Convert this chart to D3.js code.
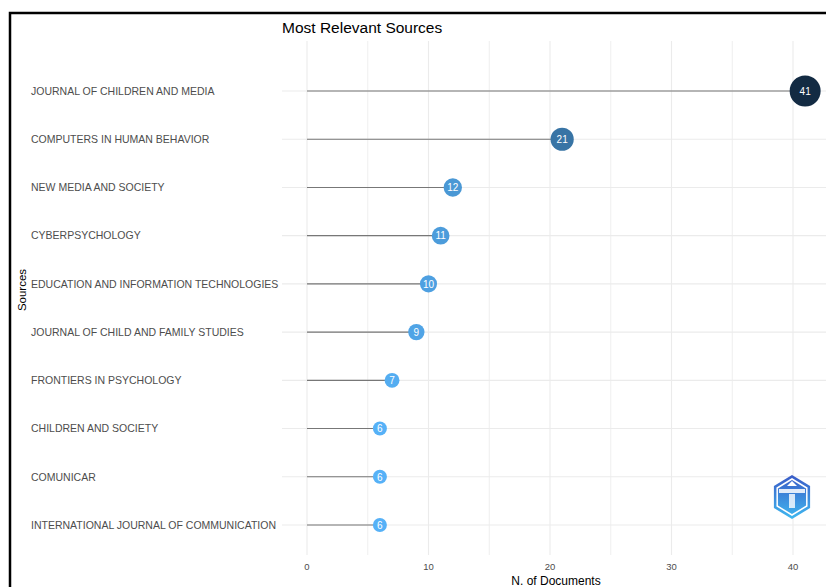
<!DOCTYPE html>
<html><head><meta charset="utf-8">
<script src="https://cdn.jsdelivr.net/npm/d3@7"></script>
<style>body{margin:0;background:#fff;}svg{display:block;font-family:"Liberation Sans",Arial,sans-serif;}</style>
</head><body>
<svg id="chart" width="826" height="587"></svg>
<script>
const sources = ["JOURNAL OF CHILDREN AND MEDIA","COMPUTERS IN HUMAN BEHAVIOR","NEW MEDIA AND SOCIETY","CYBERPSYCHOLOGY","EDUCATION AND INFORMATION TECHNOLOGIES","JOURNAL OF CHILD AND FAMILY STUDIES","FRONTIERS IN PSYCHOLOGY","CHILDREN AND SOCIETY","COMUNICAR","INTERNATIONAL JOURNAL OF COMMUNICATION"];
const documents = [41,21,12,11,10,9,7,6,6,6];
const xTicks = [0,10,20,30,40];
const xGrid = [0,5,10,15,20,25,30,35,40,45];

const svg = d3.select("#chart");
// outer border
svg.append("rect").attr("x",10).attr("y",13).attr("width",830).attr("height",600)
  .attr("fill","none").attr("stroke","#000").attr("stroke-width",2.5);

const panel = {left:282, right:826, top:41, bottom:555};
const x = d3.scaleLinear().domain([0,40]).range([307,793]);
const y = d3.scalePoint().domain(sources).range([91,525]);
const r = d3.scaleSqrt().domain([6,41]).range([7,15.5]);
const col = d3.scaleLinear().domain([6,41]).range(["#56B1F7","#132B43"]).interpolate(d3.interpolateLab);

const g = svg.append("g");
// grid
g.selectAll(".vg").data(xGrid).join("line")
  .attr("x1",d=>x(d)).attr("x2",d=>x(d)).attr("y1",panel.top).attr("y2",panel.bottom)
  .attr("stroke","#ebebeb").attr("stroke-width",d=>d%10===0?1.1:0.8);
g.selectAll(".hg").data(sources).join("line")
  .attr("x1",panel.left).attr("x2",panel.right).attr("y1",d=>y(d)).attr("y2",d=>y(d))
  .attr("stroke","#ebebeb").attr("stroke-width",1.1);

// stems
g.selectAll(".stem").data(sources).join("line")
  .attr("x1",x(0)).attr("x2",(d,i)=>x(documents[i])).attr("y1",d=>y(d)).attr("y2",d=>y(d))
  .attr("stroke","#777").attr("stroke-width",1.1);
// points
g.selectAll(".pt").data(sources).join("circle")
  .attr("cx",(d,i)=>x(documents[i])).attr("cy",d=>y(d)).attr("r",(d,i)=>r(documents[i]))
  .attr("fill",(d,i)=>col(documents[i]));
g.selectAll(".lbl").data(sources).join("text")
  .attr("x",(d,i)=>x(documents[i])).attr("y",d=>y(d)).attr("dy","0.38em")
  .attr("text-anchor","middle").attr("fill","#fff").attr("font-size",10)
  .text((d,i)=>documents[i]);

// y labels
g.selectAll(".ylab").data(sources).join("text")
  .attr("x",31).attr("y",d=>y(d)).attr("dy","0.36em")
  .attr("fill","#4d4d4d").attr("font-size",10.5).text(d=>d);

// x tick labels
g.selectAll(".xlab").data(xTicks).join("text")
  .attr("x",d=>x(d)).attr("y",570).attr("text-anchor","middle")
  .attr("fill","#4d4d4d").attr("font-size",9.5).text(d=>d);

svg.append("text").attr("x",x(20)+6).attr("y",585).attr("text-anchor","middle")
  .attr("font-size",12).attr("fill","#000").text("N. of Documents");
svg.append("text").attr("transform","translate(26,290) rotate(-90)").attr("text-anchor","middle")
  .attr("font-size",11.5).attr("fill","#000").text("Sources");
svg.append("text").attr("x",282).attr("y",33).attr("font-size",15.5).attr("fill","#000")
  .text("Most Relevant Sources");

// logo (decorative hexagon)
const defs = svg.append("defs");
const lg = defs.append("linearGradient").attr("id","lg").attr("x1",0).attr("y1",0).attr("x2",0).attr("y2",1);
lg.append("stop").attr("offset","0%").attr("stop-color","#3a5bc7");
lg.append("stop").attr("offset","100%").attr("stop-color","#3fb8f0");
const cx=792, cy=497, R=22;
const hex = d3.range(6).map(k=>{const a=Math.PI/3*k-Math.PI/2;return [cx+R*Math.cos(a)*0.95, cy+R*Math.sin(a)];});
svg.append("polygon").attr("points",hex.map(p=>p.join(",")).join(" ")).attr("fill","url(#lg)");
const hex2 = d3.range(6).map(k=>{const a=Math.PI/3*k-Math.PI/2;return [cx+(R-4)*Math.cos(a)*0.95, cy+(R-4)*Math.sin(a)];});
svg.append("polygon").attr("points",hex2.map(p=>p.join(",")).join(" ")).attr("fill","none").attr("stroke","#fff").attr("stroke-width",1.5);
svg.append("rect").attr("x",cx-13).attr("y",cy-8).attr("width",26).attr("height",4).attr("fill","#fff").attr("opacity",0.85);
svg.append("path").attr("d",`M${cx-5},${cy-11} L${cx},${cy-16} L${cx+5},${cy-11} Z`).attr("fill","#fff");
svg.append("rect").attr("x",cx-3).attr("y",cy-3).attr("width",6).attr("height",14).attr("fill","#fff").attr("opacity",0.8);
</script>
</body></html>
